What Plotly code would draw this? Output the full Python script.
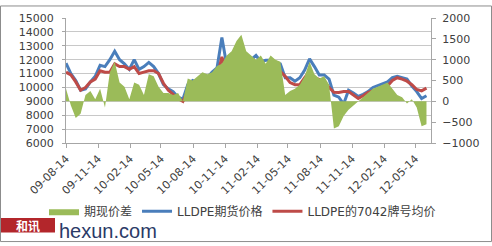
import pandas as pd
import plotly.graph_objects as go

# ---- data ----
dates = pd.date_range("2009-08-14", periods=75, freq="14D")

futures_price = [11750, 11000, 10500, 9800, 9900, 10400, 10800, 11600, 11500, 12000,
                 12600, 12000, 11700, 11300, 12000, 11300, 11500, 11800, 11500, 11000,
                 10200, 9900, 9700, 9300, 9150, 10200, 10500, 10350, 10550, 10700,
                 11100, 11400, 13600, 11600, 12000, 12500, 12600, 12000, 12000, 12300,
                 11850, 11950, 11950, 11850, 11700, 10700, 10700, 10450, 10700, 11250,
                 12060, 11500, 10900, 10900, 10600, 9450, 9300, 8800, 9800, 9600,
                 9350, 9500, 9700, 10000, 10150, 10250, 10400, 10700, 10800, 10700,
                 10600, 10100, 9700, 9200, 9400]

avg_7042 = [11100, 10900, 10400, 9800, 10000, 10400, 10600, 11200, 11100, 11100,
            11700, 11500, 11500, 11300, 11500, 11000, 11100, 11200, 11200, 11000,
            10300, 9800, 9500, 9200, 9000, 9700, 9700, 9800, 9900, 9900,
            10200, 10700, 12200, 11100, 11000, 11000, 11200, 11150, 11150, 11200,
            11250, 11050, 11150, 11150, 11150, 10800, 10350, 10200, 10200, 10700,
            11150, 10700, 10550, 10450, 10000, 9650, 9640, 9700, 9700, 9450,
            9200, 9400, 9640, 9750, 9860, 9980, 10100, 10500, 10700, 10600,
            10450, 10200, 9850, 9750, 9950]

spread = [300, -100, -400, -300, 150, 250, 50, 300, -150, 700,
          950, 450, 350, 50, 450, 400, 150, 650, 600, 350,
          200, 200, 150, 200, 0, 550, 500, 600, 700, 650,
          700, 850, 900, 1100, 1200, 1450, 1600, 1200, 1100, 1000,
          1100, 900, 1100, 1000, 950, 150, 250, 300, 400, 600,
          950, 650, 550, 600, 400, -650, -600, -350, -200, -100,
          0, 100, 200, 300, 350, 400, 450, 300, 150, 100,
          -50, 50, -150, -600, -550]

names = ["期现价差", "LLDPE期货价格", "LLDPE的7042牌号均价"]

# ---- layout constants ----
W, H = 492, 246
ML, MR, MT, MB = 66, 61, 13, 103
PW, PH = W - ML - MR, H - MT - MB

def px_x(p):
    return (p - ML) / PW

def px_y(p):
    return (H - MB - p) / PH

FONT = "Verdana, DejaVu Sans, Noto Sans CJK SC, sans-serif"

fig = go.Figure()
fig.add_trace(go.Scatter(x=dates, y=spread, name=names[0], yaxis="y2",
                         mode="lines", line=dict(width=0, color="#9bbb59"),
                         fill="tozeroy", fillcolor="#9bbb59"))
fig.add_trace(go.Scatter(x=dates, y=futures_price, name=names[1], mode="lines",
                         line=dict(width=3, color="#4a7ebb")))
fig.add_trace(go.Scatter(x=dates, y=avg_7042, name=names[2], mode="lines",
                         line=dict(width=3, color="#be4b48")))

axis_font = dict(family=FONT, size=11, color="#404040")

fig.update_layout(
    width=W, height=H,
    margin=dict(l=ML, r=MR, t=MT, b=MB, pad=0),
    paper_bgcolor="white", plot_bgcolor="white",
    font=dict(family=FONT, size=11, color="#404040"),
    showlegend=True,
    legend=dict(orientation="h", x=px_x(44), xanchor="left", y=px_y(214), yanchor="middle",
                font=dict(family=FONT, size=12, color="#404040"),
                itemwidth=30, tracegroupgap=0, bgcolor="rgba(0,0,0,0)"),
    xaxis=dict(type="date", range=["2009-08-14", "2012-06-28"],
               tick0="2009-08-14", dtick="M3", tickformat="%y-%m-%d",
               tickangle=-45, tickfont=axis_font, showgrid=False,
               showline=True, linecolor="#a6a6a6", linewidth=1,
               ticks="outside", ticklen=4, tickcolor="#a6a6a6"),
    yaxis=dict(range=[6000, 15000], dtick=1000, tickformat="d", tickfont=axis_font,
               showgrid=True, gridcolor="#c8c8c8", gridwidth=1,
               showline=True, linecolor="#a6a6a6", zeroline=False,
               ticks="outside", ticklen=3, tickcolor="#a6a6a6", ticklabelstandoff=6),
    yaxis2=dict(range=[-1000, 2000], dtick=500, tickformat="d", overlaying="y", side="right",
                tickfont=axis_font, showgrid=False, zeroline=False,
                showline=True, linecolor="#a6a6a6",
                ticks="outside", ticklen=4, tickcolor="#a6a6a6", ticklabelstandoff=4),
    shapes=[
        dict(type="rect", xref="paper", yref="paper",
             x0=px_x(0.5), x1=px_x(491.5), y0=px_y(245.5), y1=px_y(0.5),
             line=dict(color="#8c8c8c", width=1), fillcolor="rgba(0,0,0,0)", layer="below"),
        dict(type="rect", xref="paper", yref="paper",
             x0=px_x(1), x1=px_x(55), y0=px_y(236), y1=px_y(221),
             line=dict(width=0), fillcolor="#b3262b", layer="above"),
    ],
    annotations=[
        dict(text="<b>和讯</b>", xref="paper", yref="paper", x=px_x(28), y=px_y(228.5),
             xanchor="center", yanchor="middle", showarrow=False,
             font=dict(family="Noto Sans CJK SC", size=12, color="white")),
        dict(text="hexun.com", xref="paper", yref="paper", x=px_x(57), y=px_y(234),
             xanchor="left", yanchor="middle", showarrow=False,
             font=dict(family="Liberation Sans, Arial", size=20, color="#2b3a67")),
    ],
)

fig.write_html("out.html")
